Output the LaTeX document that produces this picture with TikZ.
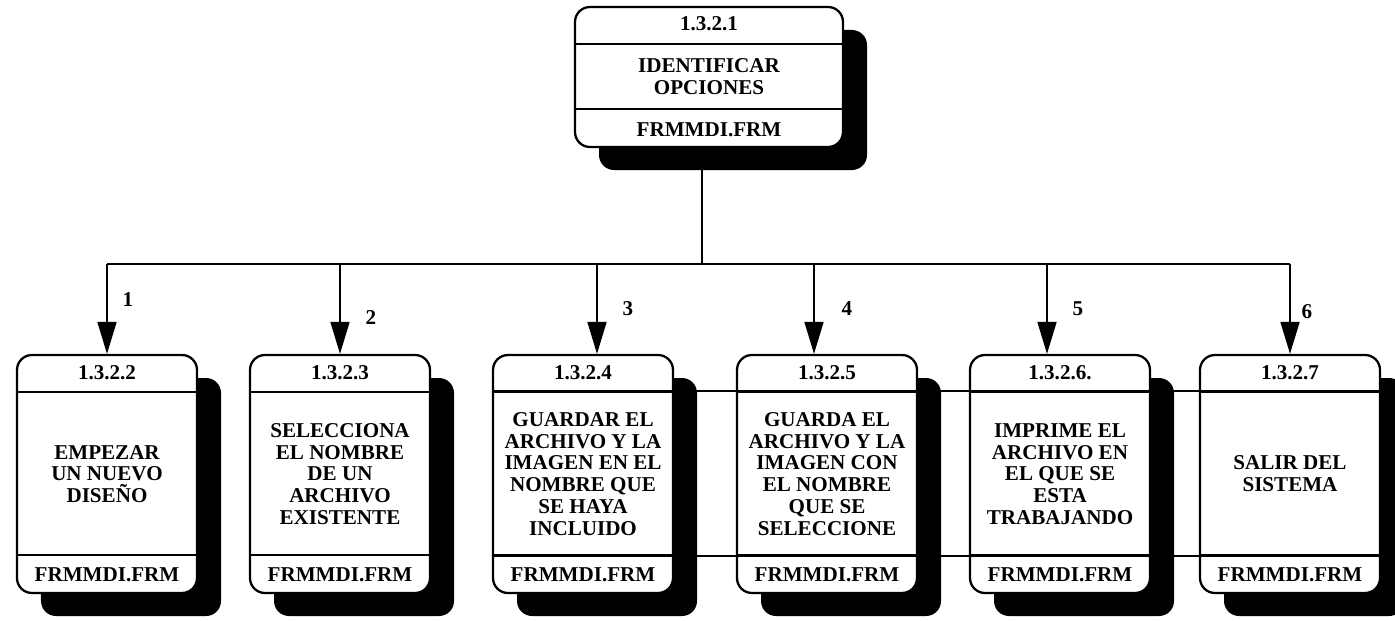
\documentclass[tikz,border=0pt]{standalone}
\usepackage{fontspec}
\setmainfont{Liberation Serif}
\usetikzlibrary{arrows.meta, positioning, shadows}

\begin{document}
\begin{tikzpicture}[
        x=0.2mm, y=-0.2mm,
        font=\fontsize{12}{12.4}\selectfont\bfseries,
        proc/.style={
            draw,
            line width=1.3pt,
            rounded corners=3mm,
            fill=white,
            align=center,
            minimum width=36mm,
            minimum height=47.6mm,
            drop shadow={shadow xshift=4.8mm, shadow yshift=-4.6mm, opacity=1, fill=black},
            path picture={
                \draw[line width=1.3pt]
                    ([yshift=-7.4mm]path picture bounding box.north west) --
                    ([yshift=-7.4mm]path picture bounding box.north east)
                    ([yshift=7.6mm]path picture bounding box.south west) --
                    ([yshift=7.6mm]path picture bounding box.south east);
            }
        },
        topproc/.style={proc, minimum width=53.6mm, minimum height=28mm},
        idtext/.style={inner sep=1pt},
        numtext/.style={midway, right=4.6mm, inner sep=1pt},
        wire/.style={line width=1pt},
        arrow/.style={
            wire,
            -{Triangle[length=6.4mm, width=3.8mm]}
        }
    ]

    \useasboundingbox (0,0) rectangle (1395,620);

    % proceso principal
    \node[topproc] (p1) at (709,77) {IDENTIFICAR\\OPCIONES};
    \node[idtext] (p1id) at ([yshift=-3.6mm]p1.north) {1.3.2.1};
    \node[idtext] (p1frm) at ([yshift=3.6mm]p1.south) {FRMMDI.FRM};

    % subprocesos
    \node[proc] (p2) at (107,474) {EMPEZAR\\UN NUEVO\\DISEÑO};
    \node[idtext] (p2id) at ([yshift=-3.7mm]p2.north) {1.3.2.2};
    \node[idtext] (p2frm) at ([yshift=3.8mm]p2.south) {FRMMDI.FRM};

    \node[proc] (p3) at (340,474) {SELECCIONA\\EL NOMBRE\\DE UN\\ARCHIVO\\EXISTENTE};
    \node[idtext] (p3id) at ([yshift=-3.7mm]p3.north) {1.3.2.3};
    \node[idtext] (p3frm) at ([yshift=3.8mm]p3.south) {FRMMDI.FRM};

    \node[proc] (p4) at (583,474) {GUARDAR EL\\ARCHIVO Y LA\\IMAGEN EN EL\\NOMBRE QUE\\SE HAYA\\INCLUIDO};
    \node[idtext] (p4id) at ([yshift=-3.7mm]p4.north) {1.3.2.4};
    \node[idtext] (p4frm) at ([yshift=3.8mm]p4.south) {FRMMDI.FRM};

    \node[proc] (p5) at (827,474) {GUARDA EL\\ARCHIVO Y LA\\IMAGEN CON\\EL NOMBRE\\QUE SE\\SELECCIONE};
    \node[idtext] (p5id) at ([yshift=-3.7mm]p5.north) {1.3.2.5};
    \node[idtext] (p5frm) at ([yshift=3.8mm]p5.south) {FRMMDI.FRM};

    \node[proc] (p6) at (1060,474) {IMPRIME EL\\ARCHIVO EN\\EL QUE SE\\ESTA\\TRABAJANDO};
    \node[idtext] (p6id) at ([yshift=-3.7mm]p6.north) {1.3.2.6.};
    \node[idtext] (p6frm) at ([yshift=3.8mm]p6.south) {FRMMDI.FRM};

    \node[proc] (p7) at (1290,474) {SALIR DEL\\SISTEMA};
    \node[idtext] (p7id) at ([yshift=-3.7mm]p7.north) {1.3.2.7};
    \node[idtext] (p7frm) at ([yshift=3.8mm]p7.south) {FRMMDI.FRM};

    % lineas de division continuas
    \draw[wire] ([yshift=-7.4mm]p4.north west) -- ([yshift=-7.4mm]p7.north east);
    \draw[wire] ([yshift=7.6mm]p4.south west) -- ([yshift=7.6mm]p7.south east);

    % conexiones
    \coordinate (bus) at (702,264);
    \draw[wire] ([xshift=-1.4mm]p1.south) -- (bus);
    \draw[wire] (p2.north |- bus) -- (p7.north |- bus);

    \draw[arrow] (p2.north |- bus) -- node[numtext, pos=0.4, right=2.6mm] {1} (p2.north);
    \draw[arrow] (p3.north |- bus) -- node[numtext, pos=0.59] {2} (p3.north);
    \draw[arrow] ([xshift=2.8mm]p4.north |- bus) -- node[numtext] {3} ([xshift=2.8mm]p4.north);
    \draw[arrow] ([xshift=-2.6mm]p5.north |- bus) -- node[numtext, right=5mm] {4} ([xshift=-2.6mm]p5.north);
    \draw[arrow] ([xshift=-2.6mm]p6.north |- bus) -- node[numtext] {5} ([xshift=-2.6mm]p6.north);
    \draw[arrow] (p7.north |- bus) -- node[numtext, pos=0.53, right=1.8mm] {6} (p7.north);

\end{tikzpicture}
\end{document}
